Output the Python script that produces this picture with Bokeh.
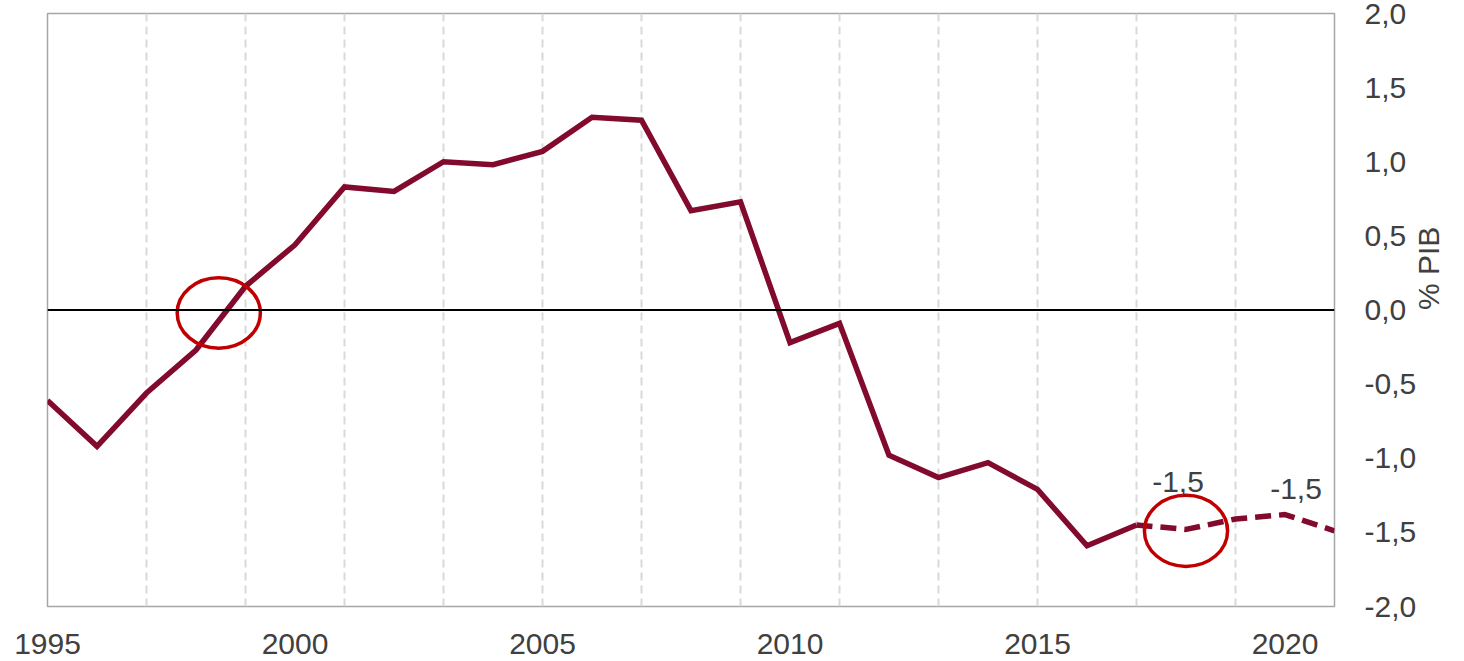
import math
from bokeh.plotting import figure
from bokeh.models import Range1d, FixedTicker, CustomJSTickFormatter, Span, ColumnDataSource
from bokeh.core.properties import value
from bokeh.embed import file_html
from bokeh.resources import INLINE

# ---- data ----
years_hist = [1995, 1996, 1997, 1998, 1999, 2000, 2001, 2002, 2003, 2004, 2005, 2006,
              2007, 2008, 2009, 2010, 2011, 2012, 2013, 2014, 2015, 2016, 2017]
balance_hist = [-0.61, -0.92, -0.56, -0.27, 0.16, 0.44, 0.83, 0.80, 1.00, 0.98, 1.07, 1.30,
                1.28, 0.67, 0.73, -0.22, -0.09, -0.98, -1.13, -1.03, -1.21, -1.59, -1.45]
years_proj = [2017, 2018, 2019, 2020, 2021]
balance_proj = [-1.45, -1.48, -1.41, -1.38, -1.49]

label_years = [2018, 2020]
label_values = [-1.48, -1.38]
label_texts = ["-1,5", "-1,5"]

circle_x = [1998.46, 2018.0]
circle_y = [-0.02, -1.49]

x_ticks = [1995, 2000, 2005, 2010, 2015, 2020]
x_grid_years = [1997, 1999, 2001, 2003, 2005, 2007, 2009, 2011, 2013, 2015, 2017, 2019]
y_ticks = [-2.0, -1.5, -1.0, -0.5, 0.0, 0.5, 1.0, 1.5, 2.0]
y_axis_title = "% PIB"

FONT = "Liberation Sans"
TXT = "#404040"
LINE = "#820A2C"

X_START, X_END = 1995, 2021

p = figure(width=1464, height=661, output_backend="svg", toolbar_location=None,
           x_range=Range1d(X_START, X_END), y_range=Range1d(-2, 2),
           y_axis_location="right",
           min_border_left=47, min_border_right=123, min_border_top=13, min_border_bottom=55)
p.background_fill_color = "white"
p.border_fill_color = "white"
p.outline_line_color = "#a6a6a6"
p.outline_line_width = 1.5

# axes
xa = p.xaxis[0]
xa.ticker = FixedTicker(ticks=x_ticks)
xa.formatter = CustomJSTickFormatter(code="return tick.toFixed(0);")
xa.axis_line_color = None
xa.major_tick_line_color = None
xa.minor_tick_line_color = None
xa.major_label_text_font = FONT
xa.major_label_text_font_size = "30px"
xa.major_label_text_color = TXT
xa.major_label_standoff = 21

ya = p.yaxis[0]
ya.ticker = FixedTicker(ticks=y_ticks)
ya.formatter = CustomJSTickFormatter(code="return tick.toFixed(1).replace('.', ',');")
ya.axis_line_color = None
ya.major_tick_line_color = None
ya.minor_tick_line_color = None
ya.major_label_text_font = FONT
ya.major_label_text_font_size = "30px"
ya.major_label_text_color = TXT
ya.major_label_standoff = 24
ya.axis_label = y_axis_title
ya.axis_label_text_font = FONT
ya.axis_label_text_font_size = "30px"
ya.axis_label_text_font_style = "normal"
ya.axis_label_text_color = TXT
ya.axis_label_text_line_height = 0.9
ya.axis_label_standoff = 9
try:
    ya.axis_label_orientation = math.pi / 2
except Exception:
    pass

# grids
p.ygrid.grid_line_color = None
p.xgrid.ticker = FixedTicker(ticks=x_grid_years)
p.xgrid.grid_line_color = "#d9d9d9"
p.xgrid.grid_line_width = 2
p.xgrid.grid_line_dash = "8 5"

# zero line
p.add_layout(Span(location=0, dimension="width", line_color="black", line_width=2))

# series
p.line(years_hist, balance_hist, line_color=LINE, line_width=5.5, line_join="miter")
p.line(years_proj, balance_proj, line_color=LINE, line_width=5.5, line_dash="16 8")

# highlight circles
p.ellipse(x=circle_x, y=circle_y, width=[1.68, 1.68], height=[0.475, 0.48],
          fill_color=None, line_color="#C00000", line_width=3.5)

# data labels
src = ColumnDataSource(dict(x=label_years, y=label_values, t=label_texts,
                            xo=[-8, 11], yo=[-47, -26]))
p.text(x="x", y="y", text="t", x_offset="xo", y_offset="yo", source=src,
       text_font=value(FONT), text_font_size="30px", text_color=TXT,
       text_align="center", text_baseline="middle")

open("out.html", "w").write(file_html(p, INLINE))
